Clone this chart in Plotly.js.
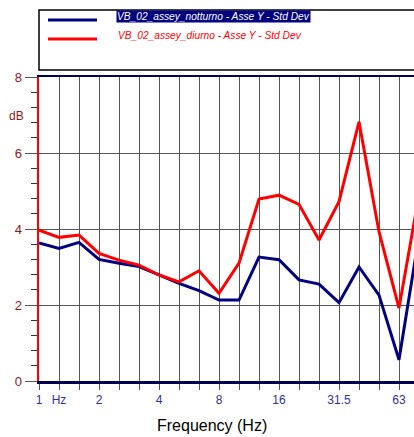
<!DOCTYPE html>
<html>
<head>
<meta charset="utf-8">
<script src="https://cdn.plot.ly/plotly-3.0.1.min.js"></script>
<style>html,body{margin:0;padding:0;background:#fff;}#chart{width:414px;height:437px;}</style>
</head>
<body>
<div id="chart"></div>
<script>
// Third-octave band centre frequencies (Hz)
const bands = ["1","1.25","1.6","2","2.5","3.15","4","5","6.3","8","10","12.5","16","20","25","31.5","40","50","63","80"];
// Tick labels shown under the axis
const tickLabels = {"1":"1","1.25":"Hz","2":"2","4":"4","8":"8","16":"16","31.5":"31.5","63":"63"};
// Series values (dB)
const notturno = [3.63,3.49,3.65,3.20,3.10,3.01,2.79,2.57,2.38,2.13,2.13,3.26,3.19,2.66,2.55,2.06,3.00,2.26,0.56,3.82];
const diurno   = [3.97,3.78,3.84,3.36,3.18,3.05,2.79,2.61,2.90,2.31,3.10,4.79,4.89,4.65,3.71,4.72,6.82,3.93,1.92,4.90];
const nameNotturno = "VB_02_assey_notturno - Asse Y - Std Dev";
const nameDiurno = "VB_02_assey_diurno - Asse Y - Std Dev";

const W = 414, H = 437, L = 39, T = 77, B = 56;
const pw = W - L, ph = H - T - B;
const px = x => (x - L) / pw;
const py = y => (H - B - y) / ph;

const traces = [
  {x: bands, y: notturno, type: 'scatter', mode: 'lines', name: nameNotturno,
   line: {color: '#000080', width: 3}},
  {x: bands, y: diurno, type: 'scatter', mode: 'lines', name: nameDiurno,
   line: {color: '#ff0000', width: 3}}
];

const layout = {
  width: W, height: H,
  margin: {l: L, r: 0, t: T, b: B},
  paper_bgcolor: '#fff', plot_bgcolor: '#fff',
  showlegend: false,
  font: {family: 'Liberation Sans, Arial, sans-serif'},
  xaxis: {
    type: 'category',
    range: [0, 18.75],
    tickmode: 'array',
    tickvals: bands,
    ticktext: bands.map(b => tickLabels[b] || ''),
    tickangle: 0,
    showgrid: true, gridcolor: '#555', gridwidth: 1,
    ticks: 'outside', ticklen: 6, tickcolor: '#555', tickwidth: 1,
    tickfont: {size: 12, color: '#3030a0'},
    showline: true, linecolor: '#000050', linewidth: 2.5, mirror: true,
    zeroline: false, fixedrange: true
  },
  yaxis: {
    range: [0, 8],
    tickvals: [0, 2, 4, 6, 8],
    showgrid: true, gridcolor: '#555', gridwidth: 1,
    ticks: 'outside', ticklen: 12, tickcolor: '#555', tickwidth: 1,
    tickfont: {size: 13, color: '#8b1a1a'},
    minor: {dtick: 0.4, ticks: 'outside', ticklen: 6, tickcolor: '#333', showgrid: false},
    showline: true, linecolor: '#ff0000', linewidth: 2.5,
    zeroline: false, fixedrange: true
  },
  shapes: [
    {type: 'rect', xref: 'paper', yref: 'paper', x0: px(39), x1: px(420), y0: py(70), y1: py(10),
     line: {color: '#000', width: 1.5}, fillcolor: 'rgba(0,0,0,0)', layer: 'above'},
    {type: 'line', xref: 'paper', yref: 'paper', x0: px(48), x1: px(97), y0: py(20), y1: py(20),
     line: {color: '#000080', width: 3}},
    {type: 'line', xref: 'paper', yref: 'paper', x0: px(48), x1: px(97), y0: py(39), y1: py(39),
     line: {color: '#ff0000', width: 3}}
  ],
  annotations: [
    {xref: 'paper', yref: 'paper', x: px(116), y: py(16), xanchor: 'left', yanchor: 'middle',
     text: '<i>' + nameNotturno + '</i>', showarrow: false, bgcolor: '#000080', borderpad: 0,
     font: {size: 10.2, color: '#fff'}},
    {xref: 'paper', yref: 'paper', x: px(116), y: py(36), xanchor: 'left', yanchor: 'middle',
     text: '<i>' + nameDiurno + '</i>', showarrow: false,
     font: {size: 10.2, color: '#ff0000'}},
    {xref: 'paper', yref: 'paper', x: px(16), y: py(116), xanchor: 'center', yanchor: 'middle',
     text: 'dB', showarrow: false, font: {size: 12, color: '#8b1a1a'}},
    {xref: 'paper', yref: 'paper', x: px(212), y: py(425), xanchor: 'center', yanchor: 'middle',
     text: 'Frequency (Hz)', showarrow: false, font: {size: 16, color: '#000'}}
  ]
};

Plotly.newPlot('chart', traces, layout, {displayModeBar: false, staticPlot: true});
</script>
</body>
</html>
